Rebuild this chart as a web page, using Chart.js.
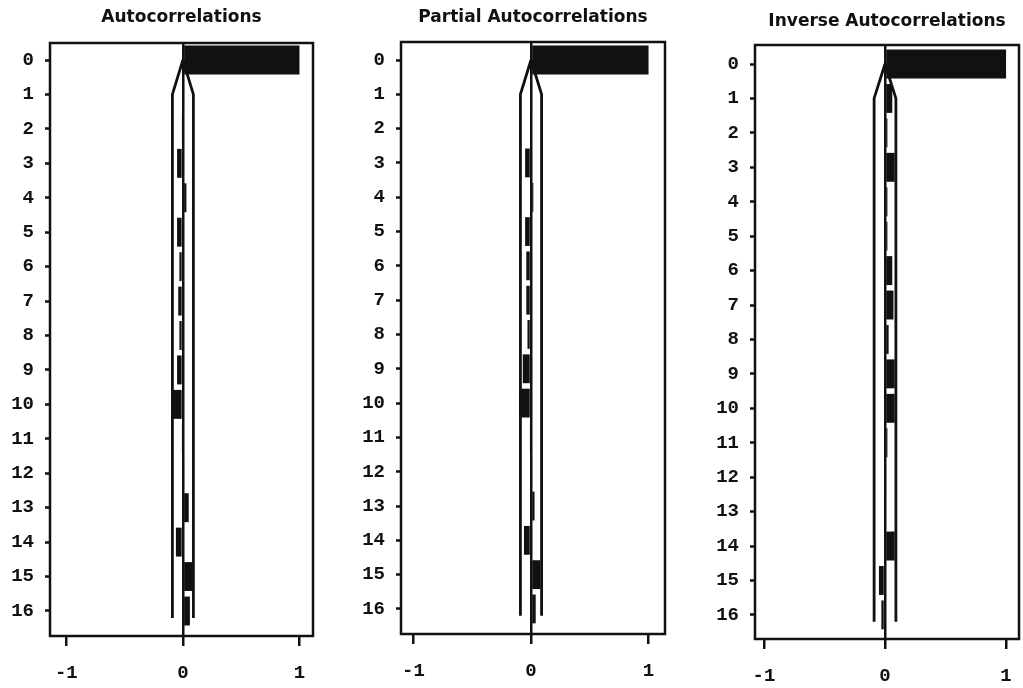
<!DOCTYPE html>
<html>
<head>
<meta charset="utf-8">
<script src="https://cdn.jsdelivr.net/npm/chart.js@4.4.1/dist/chart.umd.min.js"></script>
<style>
  html, body { margin: 0; padding: 0; background: #fff; }
  #wrap { position: relative; width: 1023px; height: 688px; overflow: hidden; }
  #wrap canvas { position: absolute; left: 0; top: 0; }
</style>
</head>
<body>
<div id="wrap">
  <canvas id="c1" width="1023" height="688"></canvas>
  <canvas id="c2" width="1023" height="688"></canvas>
  <canvas id="c3" width="1023" height="688"></canvas>
</div>
<script>
// ---- data ----
const lags = [0, 1, 2, 3, 4, 5, 6, 7, 8, 9, 10, 11, 12, 13, 14, 15, 16];
const yTickLabels = ['0', '1', '2', '3', '4', '5', '6', '7', '8', '9', '10', '11', '12', '13', '14', '15', '16'];
const xTickValues = [-1, 0, 1];
const xTickLabels = ['-1', '0', '1'];
const titles = ['Autocorrelations', 'Partial Autocorrelations', 'Inverse Autocorrelations'];
const acf  = [1.00, 0.01, -0.01, -0.05, 0.03, -0.05, -0.03, -0.04, -0.03, -0.05, -0.10, -0.01, 0.01, 0.05, -0.06, 0.08, 0.06];
const pacf = [1.00, 0.01, 0.00, -0.05, 0.02, -0.05, -0.04, -0.04, -0.03, -0.07, -0.10, -0.01, 0.01, 0.03, -0.06, 0.08, 0.04];
const iacf = [1.00, 0.06, 0.02, 0.08, 0.02, 0.02, 0.06, 0.07, 0.03, 0.08, 0.08, 0.02, 0.01, 0.00, 0.08, -0.05, -0.03];
const bandLags = [0, 1, 16.2];
const bandLimit = [0, 0.09, 0.09];

// ---- layout / style (not data) ----
const panels = [
  { id: 'c1', values: acf,  title: titles[0], left: 50,  right: 313,  top: 43, bottom: 636, xmin: -1.14,  xmax: 1.116, ymin: -0.494, ymax: 16.726, tTop: 7.8 },
  { id: 'c2', values: pacf, title: titles[1], left: 401, right: 665,  top: 42, bottom: 634, xmin: -1.106, xmax: 1.140, ymin: -0.525, ymax: 16.73,  tTop: 7.8 },
  { id: 'c3', values: iacf, title: titles[2], left: 755, right: 1019, top: 45, bottom: 639, xmin: -1.074, xmax: 1.107, ymin: -0.552, ymax: 16.70,  tTop: 11.8 }
];
const W = 1023, H = 688, YAXIS_W = 50, XAXIS_H = 48, TITLE_SIZE = 17, TITLE_LH = 1.2;
const INK = '#111';

const boxPlugin = {
  id: 'box',
  afterDraw(chart) {
    const a = chart.chartArea, ctx = chart.ctx;
    ctx.save();
    ctx.strokeStyle = INK;
    ctx.lineWidth = 2.5;
    ctx.strokeRect(a.left, a.top, a.right - a.left, a.bottom - a.top);
    ctx.restore();
  }
};

panels.forEach(p => {
  const titleH = TITLE_SIZE * TITLE_LH;
  const tBottom = p.top - p.tTop - titleH;
  new Chart(document.getElementById(p.id), {
    type: 'bar',
    data: {
      datasets: [
        {
          type: 'bar',
          data: lags.map((l, i) => ({ x: p.values[i], y: l })),
          backgroundColor: INK,
          borderWidth: 0,
          barPercentage: 0.84,
          categoryPercentage: 1.0,
          order: 2
        },
        {
          type: 'line',
          data: bandLags.map((l, i) => ({ x: bandLimit[i], y: l })),
          borderColor: INK, borderWidth: 2.8, pointRadius: 0, tension: 0, fill: false, order: 1
        },
        {
          type: 'line',
          data: bandLags.map((l, i) => ({ x: -bandLimit[i], y: l })),
          borderColor: INK, borderWidth: 2.8, pointRadius: 0, tension: 0, fill: false, order: 1
        }
      ]
    },
    options: {
      indexAxis: 'y',
      responsive: false,
      animation: false,
      events: [],
      layout: { padding: { left: p.left - YAXIS_W, right: W - p.right, top: 0, bottom: H - p.bottom - XAXIS_H } },
      plugins: {
        legend: { display: false },
        tooltip: { enabled: false },
        title: {
          display: true, text: p.title, fullSize: false, color: INK,
          font: { family: 'DejaVu Sans', size: TITLE_SIZE, weight: 'bold', lineHeight: TITLE_LH },
          padding: { top: p.tTop, bottom: tBottom }
        }
      },
      scales: {
        x: {
          type: 'linear', min: p.xmin, max: p.xmax,
          afterBuildTicks: s => { s.ticks = xTickValues.map(v => ({ value: v })); },
          afterFit: s => { s.height = XAXIS_H; s.paddingLeft = 0; s.paddingRight = 0; },
          ticks: {
            callback: (v) => xTickLabels[xTickValues.indexOf(v)],
            color: INK, padding: 16, maxRotation: 0, autoSkip: false,
            font: { family: 'Liberation Mono', size: 19, weight: 'bold' }
          },
          grid: {
            offset: false,
            color: ctx => (ctx.tick && ctx.tick.value === 0) ? INK : 'rgba(0,0,0,0)',
            tickColor: INK, lineWidth: 2.5, tickWidth: 2.5, tickLength: 10, drawOnChartArea: true
          },
          border: { display: false }
        },
        y: {
          type: 'linear', reverse: true, min: p.ymin, max: p.ymax, offset: false,
          afterBuildTicks: s => { s.ticks = lags.map(v => ({ value: v })); },
          afterFit: s => { s.width = YAXIS_W; s.paddingTop = 0; s.paddingBottom = 0; },
          ticks: {
            callback: (v) => yTickLabels[lags.indexOf(v)],
            color: INK, padding: 11, autoSkip: false,
            font: { family: 'Liberation Mono', size: 19, weight: 'bold' }
          },
          grid: { offset: false, drawOnChartArea: false, color: INK, tickColor: INK, tickWidth: 2.5, tickLength: 5 },
          border: { display: false }
        }
      }
    },
    plugins: [boxPlugin]
  });
});
</script>
</body>
</html>
